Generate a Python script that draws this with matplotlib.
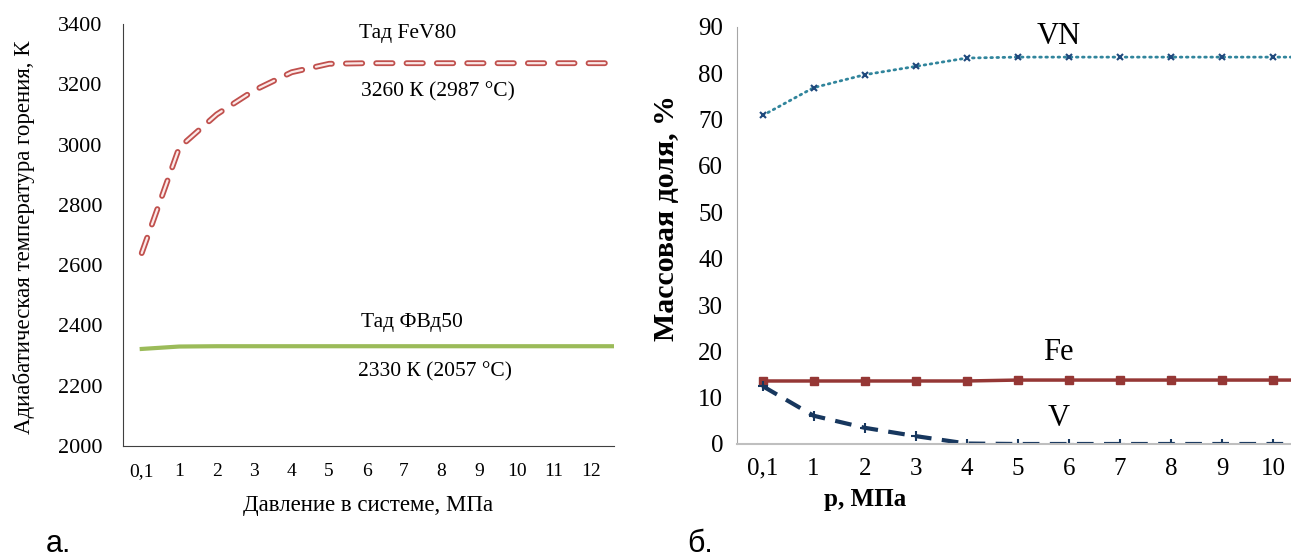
import matplotlib.pyplot as plt
import numpy as np

# --- данные ---
# панель а: адиабатическая температура горения
p_left = ['0,1', '1', '2', '3', '4', '5', '6', '7', '8', '9', '10', '11', '12', '13']
t_fev80 = [2640, 2990, 3100, 3180, 3240, 3268, 3270, 3270, 3270, 3270, 3270, 3270, 3270, 3270]
t_fvd50 = [2322, 2330, 2331, 2331, 2331, 2331, 2331, 2331, 2331, 2331, 2331, 2331, 2331, 2331]

# панель б: массовая доля фаз
p_right = ['0,1', '1', '2', '3', '4', '5', '6', '7', '8', '9', '10', '11', '12']
w_vn = [70.9, 76.9, 79.7, 81.5, 83.3, 83.5, 83.5, 83.5, 83.5, 83.5, 83.5, 83.5, 83.5]
w_fe = [13.6, 13.6, 13.6, 13.6, 13.6, 13.8, 13.8, 13.8, 13.8, 13.8, 13.8, 13.8, 13.8]
w_v = [12.5, 6.1, 3.5, 1.7, 0.1, 0, 0, 0, 0, 0, 0, 0, 0]

serif = 'Liberation Serif'
W, H = 1291, 560
fig = plt.figure(figsize=(W / 100, H / 100), dpi=100)


def frame(x0, y0, x1, y1):
    # пиксельные координаты -> доли фигуры
    return [x0 / W, 1 - y1 / H, (x1 - x0) / W, (y1 - y0) / H]


# ---------- а. ----------
ax1 = fig.add_axes(frame(123, 24, 614, 446))
x1 = np.arange(len(p_left))

# "полая" пунктирная линия: тёмный контур + светлая середина
ax1.plot(x1, t_fev80, color='#c0504d', lw=4.2, dashes=(2.8, 2.4), dash_capstyle='round')
ax1.plot(x1, t_fev80, color='#fbe9e8', lw=1.6, dashes=(7.35, 6.3), dash_capstyle='round')
ax1.plot(x1, t_fvd50, color='#9bbb59', lw=3)

ax1.set_xticks(x1[:13])
ax1.set_xticklabels(p_left[:13])
ax1.set_yticks(range(2000, 3401, 200))
ax1.set_xlim(-0.5, 12.6)
ax1.set_ylim(2000, 3400)
ax1.tick_params(axis='x', length=0, labelsize=14, pad=12)
ax1.tick_params(axis='y', length=0, labelsize=16, pad=15)
for lab in ax1.get_xticklabels() + ax1.get_yticklabels():
    lab.set_family(serif)
ax1.spines['top'].set_visible(False)
ax1.spines['right'].set_visible(False)
ax1.spines['left'].set_color('#404040')
ax1.spines['bottom'].set_color('#404040')
ax1.set_xlabel('Давление в системе, МПа', family=serif, fontsize=16.5, labelpad=11)
ax1.set_ylabel('Адиабатическая температура горения, К', family=serif, fontsize=16.5)
ax1.yaxis.set_label_coords(-0.179, 0.495)

ax1.text(7.1, 3370, 'Тад FeV80', family=serif, fontsize=15.5, ha='center', va='center')
ax1.text(7.9, 3174, '3260 К (2987 °C)', family=serif, fontsize=15.5, ha='center', va='center')
ax1.text(7.2, 2411, 'Тад ФВд50', family=serif, fontsize=15.5, ha='center', va='center')
ax1.text(7.82, 2245, '2330 К (2057 °C)', family=serif, fontsize=15.5, ha='center', va='center')

# ---------- б. ----------
ax2 = fig.add_axes(frame(737, 27, 1291, 444))
x2 = np.arange(len(p_right))

ax2.plot(x2, w_vn, color='#31859c', lw=2, linestyle=(0, (0.6, 1.6)), dash_capstyle='round',
         marker='x', ms=4, mew=1.5, mec='#1f497d')
ax2.plot(x2, w_fe, color='#953735', lw=2.5, marker='s', ms=6, mfc='#953735', mec='#953735')
ax2.plot(x2, w_v, color='#17375e', lw=3, dashes=(4, 2.5), marker='+', ms=7, mew=1.5,
         mec='#17375e')

ax2.set_xticks(x2)
ax2.set_xticklabels(p_right)
ax2.set_yticks(range(0, 91, 10))
ax2.set_xlim(-0.5, 10.35)
ax2.set_ylim(0, 90)
ax2.tick_params(axis='both', length=0, labelsize=18, pad=10)
for lab in ax2.get_xticklabels() + ax2.get_yticklabels():
    lab.set_family(serif)
ax2.spines['top'].set_visible(False)
ax2.spines['right'].set_visible(False)
ax2.spines['left'].set_color('#a6a6a6')
ax2.spines['bottom'].set_color('#bfbfbf')
ax2.spines['bottom'].set_linewidth(1.5)
ax2.set_xlabel('р, МПа', family=serif, fontsize=18, fontweight='bold')
ax2.xaxis.set_label_coords(0.231, -0.105)
ax2.set_ylabel('Массовая доля, %', family=serif, fontsize=21.5, fontweight='bold')
ax2.yaxis.set_label_coords(-0.103, 0.543)

ax2.text(5.8, 88, 'VN', family=serif, fontsize=22, ha='center', va='center')
ax2.text(5.8, 19.7, 'Fe', family=serif, fontsize=22, ha='center', va='center')
ax2.text(5.8, 5.4, 'V', family=serif, fontsize=22, ha='center', va='center')

# подписи панелей
fig.text(58 / W, 1 - 544 / H, 'а.', family='Liberation Sans', fontsize=22, ha='center', va='center')
fig.text(700 / W, 1 - 544 / H, 'б.', family='Liberation Sans', fontsize=22, ha='center', va='center')

fig.savefig('out.png', dpi=100)
